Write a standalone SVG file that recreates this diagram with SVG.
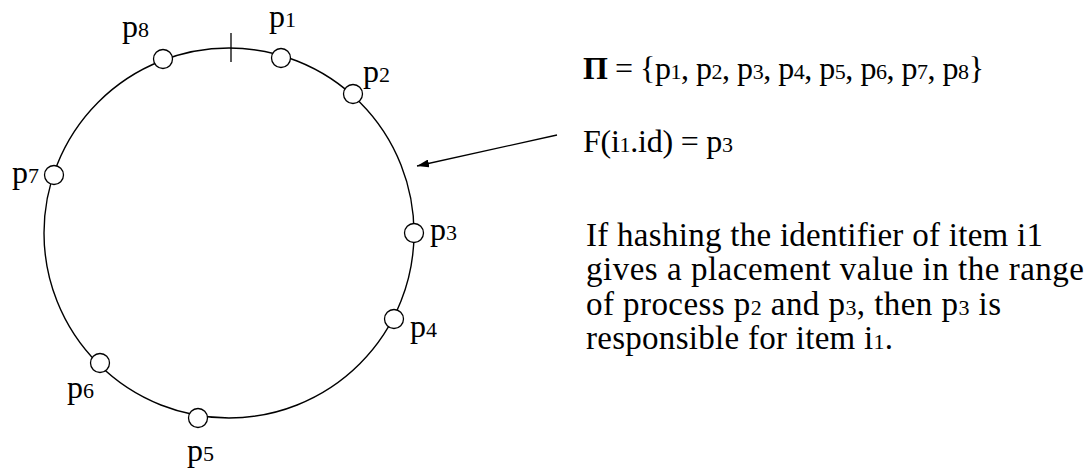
<svg xmlns="http://www.w3.org/2000/svg" width="1089" height="471" viewBox="0 0 1089 471">
<style>
text{font-family:'Liberation Serif','Tinos','Times New Roman','DejaVu Serif',serif;fill:#000;font-size:32px}
.body{font-size:33px}
.sub{font-size:22px}
.node{fill:#fff;stroke:#000;stroke-width:1.3}
.ring{fill:none;stroke:#000;stroke-width:1.4}
.conn{stroke:#000;stroke-width:1.3;fill:none}
</style>
<defs>
<marker id="ah" viewBox="0 0 12 8" refX="12" refY="4" markerWidth="12" markerHeight="8" markerUnits="userSpaceOnUse" orient="auto">
<path d="M0,0 L12,4 L0,8 Z" fill="#000"/>
</marker>
</defs>
<g id="ring">
<circle class="ring" cx="229" cy="233" r="185"/>
<line class="conn" x1="231" y1="33" x2="231" y2="62"/>
</g>
<g id="p1"><circle class="node" cx="281" cy="58" r="9.5"/><text x="269" y="27">p<tspan class="sub">1</tspan></text></g>
<g id="p2"><circle class="node" cx="353" cy="94" r="9.5"/><text x="363" y="82">p<tspan class="sub">2</tspan></text></g>
<g id="p3"><circle class="node" cx="414" cy="233" r="9.5"/><text x="430" y="240">p<tspan class="sub">3</tspan></text></g>
<g id="p4"><circle class="node" cx="394" cy="319" r="9.5"/><text x="410" y="337">p<tspan class="sub">4</tspan></text></g>
<g id="p5"><circle class="node" cx="198" cy="418" r="9.5"/><text x="187" y="461">p<tspan class="sub">5</tspan></text></g>
<g id="p6"><circle class="node" cx="100" cy="363" r="9.5"/><text x="67" y="398">p<tspan class="sub">6</tspan></text></g>
<g id="p7"><circle class="node" cx="54" cy="175" r="9.5"/><text x="12" y="183">p<tspan class="sub">7</tspan></text></g>
<g id="p8"><circle class="node" cx="163" cy="59" r="9.5"/><text x="122" y="37">p<tspan class="sub">8</tspan></text></g>
<g id="connectors">
<line class="conn" x1="557" y1="135" x2="417" y2="166" marker-end="url(#ah)"/>
</g>
<g id="text">
<text x="583" y="79" textLength="401"><tspan font-weight="bold">Π</tspan> = {p<tspan class="sub">1</tspan>, p<tspan class="sub">2</tspan>, p<tspan class="sub">3</tspan>, p<tspan class="sub">4</tspan>, p<tspan class="sub">5</tspan>, p<tspan class="sub">6</tspan>, p<tspan class="sub">7</tspan>, p<tspan class="sub">8</tspan>}</text>
<text x="583" y="152" textLength="150">F(i<tspan class="sub">1</tspan>.id) = p<tspan class="sub">3</tspan></text>
<text class="body" x="586" y="246" textLength="457">If hashing the identifier of item i1</text>
<text class="body" x="586" y="280" textLength="498">gives a placement value in the range</text>
<text class="body" x="586" y="315" textLength="415">of process p<tspan class="sub">2</tspan> and p<tspan class="sub">3</tspan>, then p<tspan class="sub">3</tspan> is</text>
<text class="body" x="586" y="349" textLength="307">responsible for item i<tspan class="sub">1</tspan>.</text>
</g>
</svg>
